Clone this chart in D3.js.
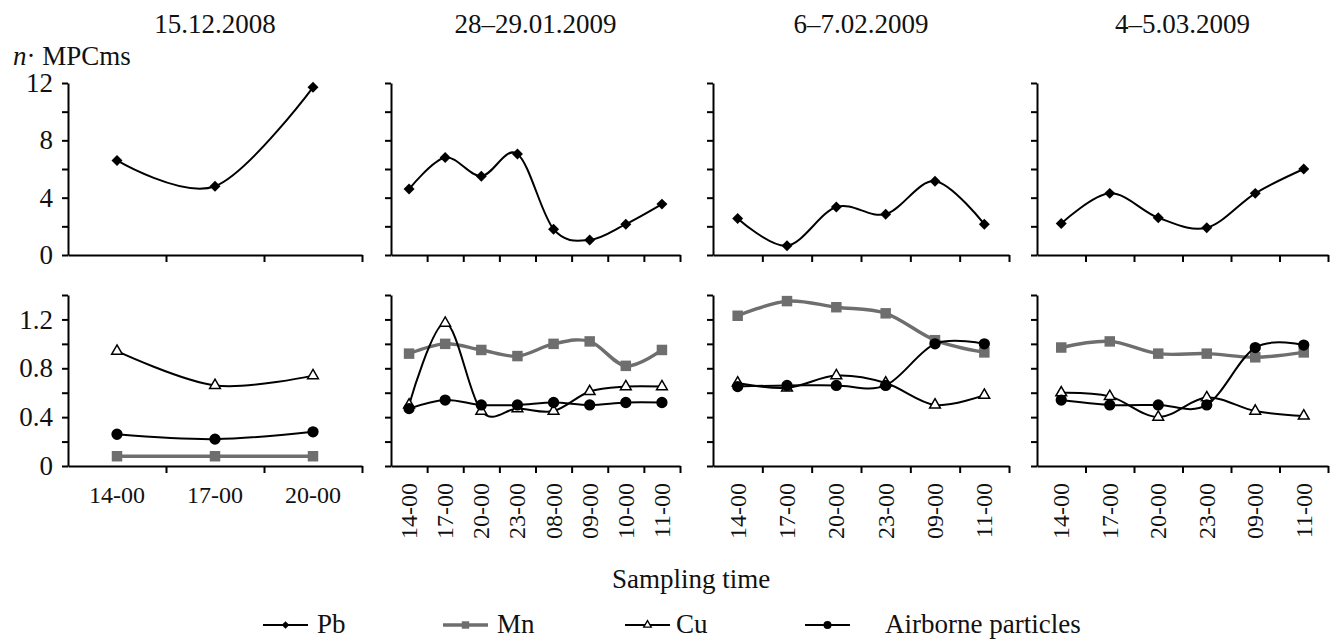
<!DOCTYPE html>
<html>
<head>
<meta charset="utf-8">
<script src="https://cdn.jsdelivr.net/npm/d3@7"></script>
<style>
  body { margin: 0; background: #fff; }
</style>
</head>
<body>
<svg id="chart" width="1335" height="642"></svg>
<script>
// sampling dates and times
const titles = ["15.12.2008", "28–29.01.2009", "6–7.02.2009", "4–5.03.2009"];
const times = [
    ["14-00", "17-00", "20-00"],
    ["14-00", "17-00", "20-00", "23-00", "08-00", "09-00", "10-00", "11-00"],
    ["14-00", "17-00", "20-00", "23-00", "09-00", "11-00"],
    ["14-00", "17-00", "20-00", "23-00", "09-00", "11-00"]
];
// n * MPCms, one row per date
const pb = [
    [6.6, 4.8, 11.7],
    [4.6, 6.8, 5.5, 7.05, 1.8, 1.05, 2.15, 3.55],
    [2.55, 0.65, 3.35, 2.85, 5.15, 2.15],
    [2.2, 4.3, 2.6, 1.9, 4.3, 6.0]
];
const mn = [
    [0.08, 0.08, 0.08],
    [0.92, 1.0, 0.95, 0.9, 1.0, 1.02, 0.82, 0.95],
    [1.23, 1.35, 1.3, 1.25, 1.03, 0.93],
    [0.97, 1.02, 0.92, 0.92, 0.89, 0.93]
];
const cu = [
    [0.94, 0.66, 0.74],
    [0.5, 1.17, 0.45, 0.47, 0.45, 0.61, 0.65, 0.65],
    [0.68, 0.64, 0.74, 0.68, 0.5, 0.58],
    [0.6, 0.57, 0.4, 0.56, 0.45, 0.41]
];
const air = [
    [0.26, 0.22, 0.28],
    [0.47, 0.54, 0.5, 0.5, 0.52, 0.5, 0.52, 0.52],
    [0.65, 0.66, 0.66, 0.66, 1.0, 1.0],
    [0.54, 0.5, 0.5, 0.5, 0.97, 0.99]
];
const topTicks = [0, 2, 4, 6, 8, 10, 12];
const topLabels = [0, 4, 8, 12];
const botTicks = [0, 0.2, 0.4, 0.6, 0.8, 1.0, 1.2, 1.4];
const botLabels = [0, 0.4, 0.8, 1.2];
const legendNames = ["Pb", "Mn", "Cu", "Airborne particles"];

const FONT = "'Liberation Serif', 'Times New Roman', 'DejaVu Serif', serif";
const panelX = [[68, 362], [391, 680], [713, 1009], [1037, 1328]];
const svg = d3.select("#chart");

const yTop = d3.scaleLinear().domain([0, 12]).range([255, 83]);
const yBot = d3.scaleLinear().domain([0, 1.4]).range([466, 295]);

const grey = "#6e6e6e";
const styles = {
    Pb: { stroke: "#000", width: 2, sym: d3.symbolSquare, size: 60, rot: 45, fill: "#000", sStroke: "none" },
    Mn: { stroke: grey, width: 3.4, sym: d3.symbolSquare, size: 110, rot: 0, fill: grey, sStroke: "none" },
    Cu: { stroke: "#000", width: 2, sym: d3.symbolTriangle, size: 50, rot: 0, fill: "#fff", sStroke: "#000" },
    Air: { stroke: "#000", width: 2, sym: d3.symbolCircle, size: 100, rot: 0, fill: "#000", sStroke: "none" }
};

function txt(sel, size) {
    return sel.style("font-family", FONT).style("font-size", size + "px").style("fill", "#111");
}

function drawSeries(g, x, y, vals, cats, st) {
    const pts = vals.map((v, i) => [x(cats[i]) + x.bandwidth() / 2, y(v)]);
    g.append("path")
        .attr("d", d3.line().curve(d3.curveCatmullRom.alpha(0))(pts))
        .attr("fill", "none")
        .attr("stroke", st.stroke)
        .attr("stroke-width", st.width);
    g.selectAll(null).data(pts).enter().append("path")
        .attr("d", d3.symbol(st.sym, st.size))
        .attr("transform", (d) => `translate(${d[0]},${d[1]}) rotate(${st.rot})`)
        .attr("fill", st.fill)
        .attr("stroke", st.sStroke)
        .attr("stroke-width", 1.5);
}

function styleAxis(a) {
    a.attr("font-family", FONT);
    a.selectAll("path, line").attr("stroke", "#000").attr("stroke-width", 2);
    txt(a.selectAll("text"), 27);
}

titles.forEach((title, p) => {
    const [x0, x1] = panelX[p];
    const cats = times[p];
    const x = d3.scaleBand().domain(cats).range([x0, x1]);
    const xi = d3.scaleLinear().domain([0, cats.length]).range([x0, x1]);
    const g = svg.append("g");

    txt(svg.append("text"), 27)
        .attr("x", (x0 + x1) / 2).attr("y", 33)
        .attr("text-anchor", "middle")
        .text(title);

    [[yTop, topTicks, topLabels], [yBot, botTicks, botLabels]].forEach(([y, ticks, labels]) => {
        const ya = g.append("g")
            .attr("transform", `translate(${x0},0)`)
            .call(d3.axisLeft(y).tickValues(ticks).tickSize(6).tickSizeOuter(0)
                .tickFormat((d) => (p === 0 && labels.some((l) => Math.abs(l - d) < 1e-9) ? d3.format("")(d) : "")))
            .call(styleAxis);
        ya.selectAll("text").attr("x", -15);

        g.append("g")
            .attr("transform", `translate(0,${y.range()[0]})`)
            .call(d3.axisBottom(xi).tickValues(d3.range(1, cats.length + 1)).tickSize(7).tickSizeOuter(0).tickFormat(""))
            .call(styleAxis);
    });

    drawSeries(g, x, yTop, pb[p], cats, styles.Pb);
    drawSeries(g, x, yBot, mn[p], cats, styles.Mn);
    drawSeries(g, x, yBot, cu[p], cats, styles.Cu);
    drawSeries(g, x, yBot, air[p], cats, styles.Air);

    // time labels below the lower axis
    const lbl = txt(g.selectAll(null).data(cats).enter().append("text"), 24)
        .text((d) => d);
    if (p === 0) {
        lbl.attr("x", (d) => x(d) + x.bandwidth() / 2).attr("y", 503).attr("text-anchor", "middle");
    } else {
        lbl.attr("text-anchor", "end")
            .attr("dominant-baseline", "central")
            .attr("transform", (d) => `translate(${x(d) + x.bandwidth() / 2},483) rotate(-90)`);
    }
});

// y-axis unit
const unit = txt(svg.append("text"), 27).attr("x", 13).attr("y", 65);
unit.append("tspan").style("font-style", "italic").text("n");
unit.append("tspan").text("· MPCms");

txt(svg.append("text"), 27)
    .attr("x", 691).attr("y", 588)
    .attr("text-anchor", "middle")
    .text("Sampling time");

// legend
const legendX = [263, 443, 625, 805];
const legendText = [317, 497, 676, 885];
const legendStyles = [styles.Pb, styles.Mn, styles.Cu, styles.Air];
const legendY = 625;
legendNames.forEach((name, i) => {
    const st = legendStyles[i];
    const lg = svg.append("g");
    lg.append("line")
        .attr("x1", legendX[i]).attr("x2", legendX[i] + 45)
        .attr("y1", legendY).attr("y2", legendY)
        .attr("stroke", st.stroke).attr("stroke-width", st.width);
    lg.append("path")
        .attr("d", d3.symbol(st.sym, st.size * 0.5))
        .attr("transform", `translate(${legendX[i] + 22.5},${legendY}) rotate(${st.rot})`)
        .attr("fill", st.fill)
        .attr("stroke", st.sStroke)
        .attr("stroke-width", 1.3);
    txt(lg.append("text"), 27)
        .attr("x", legendText[i]).attr("y", legendY + 8)
        .text(name);
});
</script>
</body>
</html>
